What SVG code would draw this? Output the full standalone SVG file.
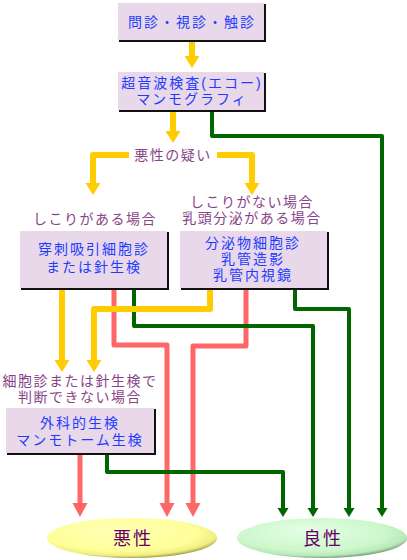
<svg xmlns="http://www.w3.org/2000/svg" width="407" height="560" viewBox="0 0 407 560">
<style>
.box{fill:#e8d8ea}
.sh{fill:#111}
.hl{fill:none;stroke:#ffffff;stroke-width:1}
.bt{font-family:"Liberation Sans","Noto Sans CJK JP",sans-serif;font-size:14px;fill:#1f3cff;text-anchor:middle;letter-spacing:2px}
.lb{font-family:"Liberation Sans","Noto Sans CJK JP",sans-serif;font-size:14px;fill:#884488;text-anchor:middle;letter-spacing:1.5px}
.et{font-family:"Liberation Sans","Noto Sans CJK JP",sans-serif;font-size:18px;fill:#660066;text-anchor:middle;letter-spacing:2px}
.y{fill:none;stroke:#ffcc00;stroke-width:6;stroke-linejoin:round}
.r{fill:none;stroke:#ff6666;stroke-width:5;stroke-linejoin:round}
.g{fill:none;stroke:#006600;stroke-width:4;stroke-linejoin:round}
</style>
<defs>
<marker id="ay" markerUnits="userSpaceOnUse" markerWidth="14" markerHeight="16" viewBox="0 -8 13 16" refX="0" refY="0" orient="auto"><path d="M0,-7.5 L12,0 L0,7.5 Z" fill="#ffcc00"/></marker>
<marker id="ar" markerUnits="userSpaceOnUse" markerWidth="15" markerHeight="16" viewBox="0 -8 15 16" refX="0" refY="0" orient="auto"><path d="M0,-7.5 L14,0 L0,7.5 Z" fill="#ff6666"/></marker>
<marker id="ag" markerUnits="userSpaceOnUse" markerWidth="10" markerHeight="12" viewBox="0 -6 10 12" refX="0" refY="0" orient="auto"><path d="M0,-5.5 L9,0 L0,5.5 Z" fill="#006600"/></marker>
<radialGradient id="gy" cx="0.45" cy="0.4" r="0.6" fx="0.4" fy="0.3">
<stop offset="0" stop-color="#ffffb8"/><stop offset="0.75" stop-color="#ffff99"/><stop offset="0.92" stop-color="#eeee80"/><stop offset="1" stop-color="#a8a850"/></radialGradient>
<radialGradient id="gg" cx="0.45" cy="0.4" r="0.6" fx="0.4" fy="0.3">
<stop offset="0" stop-color="#e4ffe4"/><stop offset="0.75" stop-color="#ccf7cc"/><stop offset="0.92" stop-color="#b8e8b8"/><stop offset="1" stop-color="#80a880"/></radialGradient>
</defs>

<g id="connectors">
<path class="r" d="M114 290 V345 H167 V503" marker-end="url(#ar)"/>
<path class="r" d="M246 290 V346 H193 V503" marker-end="url(#ar)"/>
<path class="r" d="M80 455 V503" marker-end="url(#ar)"/>
<path class="g" d="M212 112 V136 H382 V508" marker-end="url(#ag)"/>
<path class="g" d="M134 290 V326 H313 V508" marker-end="url(#ag)"/>
<path class="g" d="M295 290 V309 H349 V508" marker-end="url(#ag)"/>
<path class="g" d="M107 455 V472 H283 V508" marker-end="url(#ag)"/>
<path class="y" d="M192 42 V56" marker-end="url(#ay)"/>
<path class="y" d="M173 112 V131" marker-end="url(#ay)"/>
<path class="y" d="M129 155 H93 V183" marker-end="url(#ay)"/>
<path class="y" d="M217 155 H252 V183" marker-end="url(#ay)"/>
<path class="y" d="M62 290 V360" marker-end="url(#ay)"/>
<path class="y" d="M210 290 V309 H94 V360" marker-end="url(#ay)"/>
</g>

<g id="n-exam">
<rect class="sh" x="119" y="4" width="147" height="38"/>
<rect class="box" x="117" y="2" width="147" height="38"/>
<path class="hl" d="M117.5 39 V2.5 H264"/>
<text class="bt" x="192" y="27">問診・視診・触診</text>
</g>

<g id="n-echo">
<rect class="sh" x="119" y="73" width="147" height="39"/>
<rect class="box" x="117" y="71" width="147" height="39"/>
<path class="hl" d="M117.5 110 V71.5 H264"/>
<text class="bt" x="192" y="88">超音波検査(エコー)<tspan x="192" dy="16">マンモグラフィ</tspan></text>
</g>

<g id="l-suspect">
<text class="lb" x="173" y="160">悪性の疑い</text>
</g>

<g id="l-lump">
<text class="lb" x="95" y="224">しこりがある場合</text>
</g>

<g id="l-nolump">
<text class="lb" x="252" y="207">しこりがない場合<tspan x="252" dy="16">乳頭分泌がある場合</tspan></text>
</g>

<g id="n-biopsy">
<rect class="sh" x="21" y="232" width="148" height="58"/>
<rect class="box" x="19" y="230" width="148" height="58"/>
<path class="hl" d="M19.5 288 V230.5 H167"/>
<text class="bt" x="94" y="254">穿刺吸引細胞診<tspan x="94" dy="18">または針生検</tspan></text>
</g>

<g id="n-secretion">
<rect class="sh" x="181" y="232" width="148" height="58"/>
<rect class="box" x="179" y="230" width="148" height="58"/>
<path class="hl" d="M179.5 288 V230.5 H327"/>
<text class="bt" x="253" y="248">分泌物細胞診<tspan x="253" dy="16">乳管造影</tspan><tspan x="253" dy="16">乳管内視鏡</tspan></text>
</g>

<g id="l-undetermined">
<text class="lb" x="80" y="386">細胞診または針生検で<tspan x="80" dy="16">判断できない場合</tspan></text>
</g>

<g id="n-surgical">
<rect class="sh" x="7" y="409" width="149" height="46"/>
<rect class="box" x="5" y="407" width="149" height="46"/>
<path class="hl" d="M5.5 453 V407.5 H154"/>
<text class="bt" x="80" y="428">外科的生検<tspan x="80" dy="17">マンモトーム生検</tspan></text>
</g>

<g id="n-malignant">
<ellipse cx="132" cy="538" rx="85" ry="20" fill="url(#gy)"/>
<text class="et" x="133" y="545">悪性</text>
</g>

<g id="n-benign">
<ellipse cx="322" cy="538" rx="85" ry="20" fill="url(#gg)"/>
<text class="et" x="323" y="545">良性</text>
</g>
</svg>
